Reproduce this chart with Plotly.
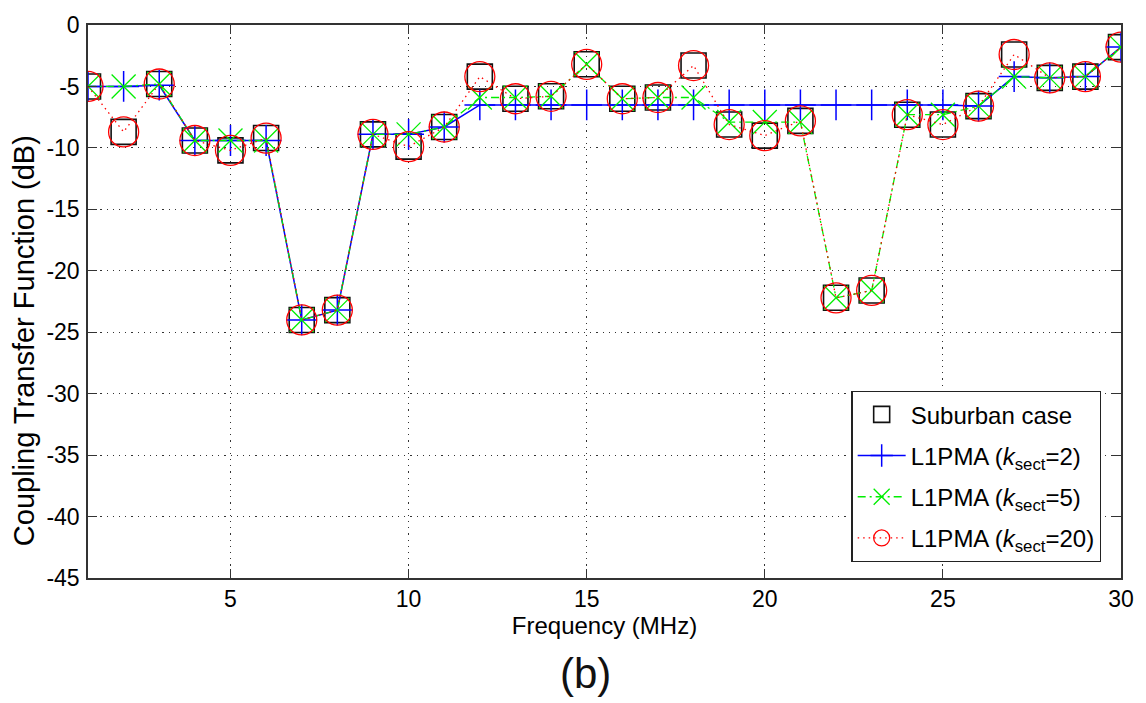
import plotly.graph_objects as go

freq = list(range(1, 31))

suburban = [-5.0, -8.7, -4.8, -9.4, -10.2, -9.2, -24.0, -23.2, -8.9, -9.9,
            -8.3, -4.2, -6.0, -5.8, -3.2, -6.0, -5.9, -3.3, -8.1, -9.0,
            -7.8, -22.2, -21.6, -7.3, -8.1, -6.6, -2.4, -4.3, -4.2, -1.8]

k2 = [-5.0, -5.0, -4.9, -9.4, -9.4, -9.4, -24.0, -23.2, -8.9, -8.9,
      -8.3, -6.5, -6.5, -6.5, -6.5, -6.5, -6.5, -6.5, -6.5, -6.5,
      -6.5, -6.5, -6.5, -6.5, -6.5, -6.6, -4.2, -4.3, -4.2, -1.8]

k5 = [-5.0, -5.0, -4.8, -9.4, -9.4, -9.4, -24.0, -23.2, -8.9, -8.9,
      -8.3, -5.9, -5.9, -5.8, -3.2, -6.0, -5.9, -5.9, -7.9, -7.9,
      -7.9, -22.2, -21.6, -7.3, -7.3, -6.6, -4.2, -4.3, -4.2, -1.8]

k20 = [-5.0, -8.7, -4.8, -9.4, -10.2, -9.2, -24.0, -23.2, -8.9, -9.9,
       -8.3, -4.2, -6.0, -5.8, -3.2, -6.0, -5.9, -3.3, -8.1, -9.0,
       -7.8, -22.2, -21.6, -7.3, -8.1, -6.6, -2.4, -4.3, -4.2, -1.8]

names = ["Suburban case",
         "L1PMA (<i>k</i><sub>sect</sub>=2)",
         "L1PMA (<i>k</i><sub>sect</sub>=5)",
         "L1PMA (<i>k</i><sub>sect</sub>=20)"]

x_ticks = [5, 10, 15, 20, 25, 30]
y_ticks = [0, -5, -10, -15, -20, -25, -30, -35, -40, -45]

FONT = "Liberation Sans, Arial, sans-serif"

fig = go.Figure()
fig.add_trace(go.Scatter(
    x=freq, y=suburban, name=names[0], mode="markers", legendgroup="g0",
    marker=dict(symbol="square-open", size=25, color="#111111",
                line=dict(width=1.6, color="#111111"))))
fig.add_trace(go.Scatter(
    x=freq, y=k2, name=names[1], mode="lines+markers", legendgroup="g1",
    line=dict(color="#0000ff", width=1.5),
    marker=dict(symbol="cross-thin-open", size=22, color="#0000ff",
                line=dict(width=1.5, color="#0000ff"))))
fig.add_trace(go.Scatter(
    x=freq, y=k5, name=names[2], mode="lines+markers", legendgroup="g2",
    line=dict(color="#00ee00", width=1.3, dash="8px,4px,2px,4px"),
    marker=dict(symbol="x-thin-open", size=24, color="#00ee00",
                line=dict(width=1.3, color="#00ee00"))))
fig.add_trace(go.Scatter(
    x=freq, y=k20, name=names[3], mode="lines+markers", legendgroup="g3",
    line=dict(color="#ff0000", width=1.3, dash="1.5px,4px"),
    marker=dict(symbol="circle-open", size=30, color="#ff0000",
                line=dict(width=1.3, color="#ff0000"))))

axis_common = dict(
    showline=True, linecolor="#333333", linewidth=1.5, mirror="ticks",
    ticks="inside", ticklen=9, tickwidth=1.3, tickcolor="#333333",
    showgrid=True, gridcolor="#333333", gridwidth=1, griddash="1.2px,5px",
    zeroline=False,
    tickfont=dict(family=FONT, size=23, color="black"),
)

fig.update_xaxes(
    range=[1, 30], tickvals=x_ticks, ticktext=[str(v) for v in x_ticks],
    title=dict(text="Frequency (MHz)", font=dict(family=FONT, size=24, color="black"),
               standoff=6),
    **axis_common)
fig.update_yaxes(
    range=[-45, 0], tickvals=y_ticks, ticktext=[str(v) for v in y_ticks],
    ticklabelstandoff=2,
    **axis_common)

fig.update_layout(
    width=1146, height=703,
    margin=dict(l=88, r=17, t=20, b=125),
    paper_bgcolor="white", plot_bgcolor="white",
    font=dict(family=FONT, color="black"),
    showlegend=True,
    legend=dict(x=0.981, y=0.029, xanchor="right", yanchor="bottom",
                bgcolor="white", bordercolor="#222222", borderwidth=1.3,
                font=dict(family=FONT, size=24, color="black"),
                itemwidth=48, traceorder="grouped", tracegroupgap=7),
    annotations=[
        dict(text="Coupling Transfer Function (dB)", x=-0.062, y=0.43,
             xref="paper", yref="paper", xanchor="center", yanchor="middle",
             textangle=-90, showarrow=False,
             font=dict(family=FONT, size=29, color="black")),
        dict(text="(b)", x=0.482, y=-0.172, xref="paper", yref="paper",
             xanchor="center", yanchor="middle", showarrow=False,
             font=dict(family=FONT, size=42, color="#111111"))],
)

fig.write_html("out.html")
